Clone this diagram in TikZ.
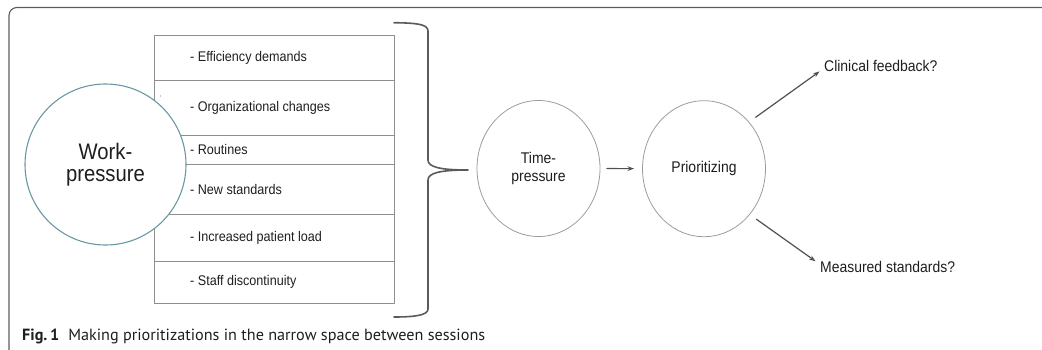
\documentclass[tikz,border=0pt]{standalone}
\usepackage{graphicx}
\usepackage{fontspec}
\setmainfont{Liberation Sans}
\newfontfamily\diagramfont{Liberation Sans}[FakeStretch=0.9]
\newfontfamily\captionfont{PT Sans}
\usetikzlibrary{arrows.meta,positioning,shapes.geometric}

\definecolor{framegray}{HTML}{5C5C5C}
\definecolor{boxgray}{HTML}{8E8E8E}
\definecolor{bracegray}{HTML}{5A5A5A}
\definecolor{bubblegray}{HTML}{9C9C9C}
\definecolor{workteal}{HTML}{6A98A6}
\definecolor{arrowgray}{HTML}{505050}
\definecolor{inkgray}{HTML}{1E1E1E}

\begin{document}
\begin{tikzpicture}[x=1pt,y=-1pt,>={Stealth[length=6.5pt,width=4.6pt]},
    line cap=round,line join=round,
    rowtext/.style={anchor=west,inner sep=0pt,text=inkgray,
      font=\diagramfont\fontsize{14}{16}\selectfont},
    bubble/.style={ellipse,draw=bubblegray,line width=.8pt,fill=white,
      minimum width=123pt,minimum height=136pt,inner sep=0pt,align=center,
      text=inkgray,font=\diagramfont\fontsize{15.5}{18.5}\selectfont},
    flow/.style={->,draw=arrowgray,line width=1.2pt},
    outcome/.style={anchor=west,inner sep=2pt,text=inkgray,
      font=\diagramfont\fontsize{15.5}{18}\selectfont}]
  \useasboundingbox (0,0) rectangle (1042,349);

  % open frame round the figure and its caption
  \draw[framegray,line width=1.1pt,rounded corners=8pt]
    (9,352) -- (9,7.5) -- (1046,7.5);

  % list of factors, one row each
  \foreach \ytop/\ybot/\txt [count=\i] in {35/80/{- Efficiency demands},
      80/135/{- Organizational changes},135/164/{- Routines},
      164/214/{- New standards},214/261/{- Increased patient load},
      261/303/{- Staff discontinuity}}{
    \draw[boxgray,line width=.9pt] (154,\ytop) rectangle (394,\ybot);
    \node[rowtext] (row\i) at (190,{(\ytop+\ybot)/2}) {\txt};
  }
  \fill[boxgray] (160.5,96) circle (.7pt);

  \node[circle,draw=workteal,line width=1.1pt,fill=white,minimum size=161pt,
    inner sep=0pt,align=center,text=inkgray,
    font=\diagramfont\fontsize{22.5}{22.5}\selectfont]
    (work) at (105.5,164.5) {Work-\\pressure};

  % brace gathering the rows
  \coordinate (bracetip) at (468,170);
  \draw[bracegray,line width=1.6pt]
    (394,22.7) .. controls (416,23) and (428,24) .. (428,31)
    -- (428,160) .. controls (428,167) and (440,170) .. (bracetip)
    .. controls (440,170) and (428,173) .. (428,180)
    -- (428,309) .. controls (428,315) and (416,317) .. (394,317);

  \node[bubble] (time) at (538.5,168.5) {Time-\\pressure};
  \node[bubble] (prio) at (704,168.7) {Prioritizing};

  \node[outcome] (clinic) at (822,65.7) {Clinical feedback?};
  \node[outcome] (measured) at (818,267) {Measured standards?};

  \draw[flow,shorten <=6.5pt,shorten >=8pt] (time) -- (prio);
  \draw[flow,shorten <=8pt,shorten >=3pt] (prio.46) -- ([yshift=-4pt]clinic.west);
  \draw[flow,shorten <=8pt,shorten >=3pt] (prio.-45) -- ([yshift=4pt]measured.west);

  \node[anchor=base west,inner sep=0pt,text=inkgray,font=\captionfont]
    (caption) at (22,340) {\resizebox{463pt}{!}{\textbf{Fig.\,1}\hspace{.55em}%
      Making prioritizations in the narrow space between sessions}};
\end{tikzpicture}
\end{document}
